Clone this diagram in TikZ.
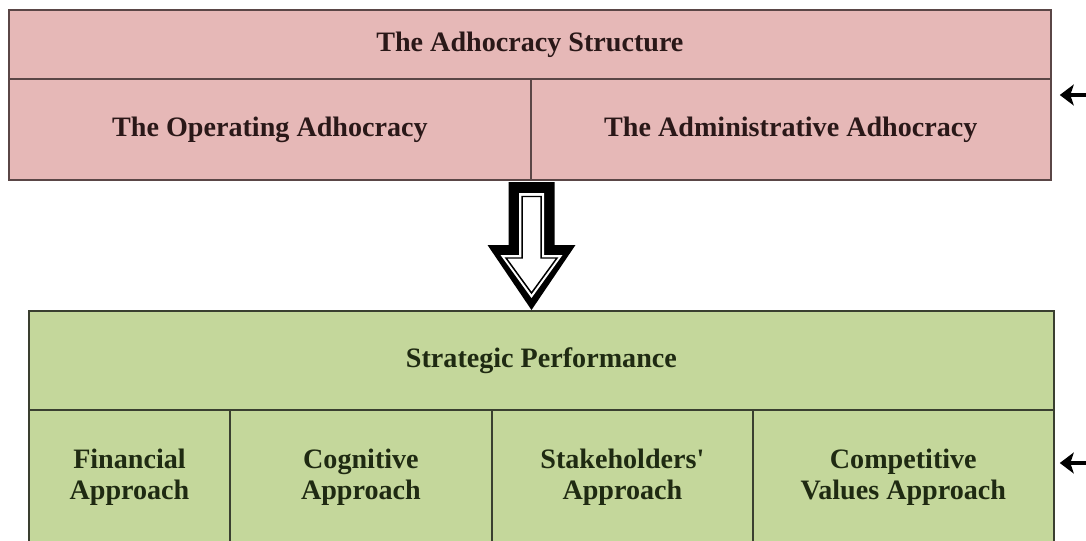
\documentclass[tikz,border=0pt]{standalone}
\usepackage{fontspec}
\setmainfont{Liberation Serif}
\usetikzlibrary{positioning,arrows.meta}

\definecolor{adhocfill}{HTML}{E6B8B7}
\definecolor{adhocline}{HTML}{5A4646}
\definecolor{adhoctext}{HTML}{2A1818}
\definecolor{perffill}{HTML}{C4D79B}
\definecolor{perfline}{HTML}{3A3F30}
\definecolor{perftext}{HTML}{1F2A12}

\begin{document}
\begin{tikzpicture}[
x=0.02cm, y=-0.02cm,
every node/.style = {shape=rectangle, line width=1pt, inner sep=0pt, outer sep=0pt, align=center,
  font=\fontsize{16}{17.8}\selectfont\bfseries},
adhoccell/.style = {draw=adhocline, fill=adhocfill, text=adhoctext},
perfcell/.style = {draw=perfline, fill=perffill, text=perftext},
feedback/.style = {line width=1.8pt, -{Stealth[length=0.28cm, width=0.42cm, inset=0.07cm]}},
]
  \clip (0,0) rectangle (1086,541);
  \fill[white] (0,0) rectangle (1086,541);

  \node[adhoccell, anchor=north west, minimum width=20.84cm, minimum height=1.38cm]
    (adhocracy) at (9,10) {The Adhocracy Structure};
  \node[adhoccell, below right=0pt and 0pt of adhocracy.south west, minimum width=10.44cm, minimum height=2.02cm]
    (operating) {The Operating Adhocracy};
  \node[adhoccell, right=0pt of operating, minimum width=10.40cm, minimum height=2.02cm]
    (administrative) {The Administrative Adhocracy};

  \node[perfcell, anchor=north west, minimum width=20.5cm, minimum height=1.98cm]
    (performance) at (29,311) {Strategic Performance};
  \node[perfcell, below right=0pt and 0pt of performance.south west, minimum width=4.02cm, minimum height=2.68cm]
    (financial) {Financial\\Approach};
  \node[perfcell, right=0pt of financial, minimum width=5.24cm, minimum height=2.68cm]
    (cognitive) {Cognitive\\Approach};
  \node[perfcell, right=0pt of cognitive, minimum width=5.22cm, minimum height=2.68cm]
    (stakeholders) {Stakeholders\textquotesingle\\Approach};
  \node[perfcell, right=0pt of stakeholders, minimum width=6.02cm, minimum height=2.68cm]
    (competitive) {Competitive\\Values Approach};

  % hollow block arrow between the two tables
  \fill (508.5,182) -- (554.5,182) -- (554.5,245) -- (575.5,245) -- (531.5,310)
    -- (487.5,245) -- (508.5,245) -- cycle;
  \fill[white] (519,193) -- (544,193) -- (544,255) -- (562.5,255) -- (531.5,298)
    -- (500.5,255) -- (519,255) -- cycle;
  \draw[line width=0.85pt, line join=miter] (522,196.5) -- (541,196.5) -- (541,258) -- (557,258)
    -- (531.5,293) -- (506,258) -- (522,258) -- cycle;

  \coordinate (feedtop) at (1090,95);
  \coordinate (feedbottom) at (1090,463);
  \draw[feedback, shorten >=0.18cm] (feedtop) -- (feedtop -| administrative.east);
  \draw[feedback, shorten >=0.12cm] (feedbottom) -- (feedbottom -| competitive.east);
\end{tikzpicture}
\end{document}
